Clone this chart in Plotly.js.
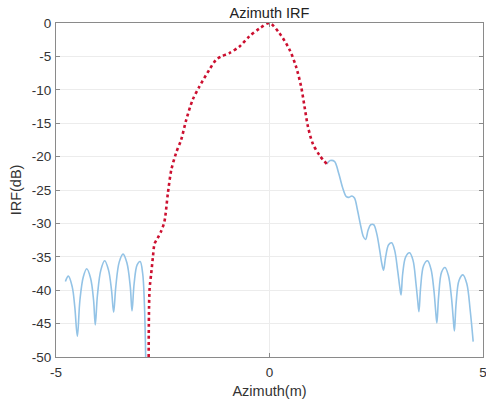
<!DOCTYPE html>
<html>
<head>
<meta charset="utf-8">
<script src="https://cdn.plot.ly/plotly-3.0.1.min.js"></script>
<style>html,body{margin:0;padding:0;background:#fff;}#chart{width:486px;height:403px;}</style>
</head>
<body>
<div id="chart"></div>
<script>
// Blue full IRF (sidelobes), left part
const blueLeftX = [-4.78, -4.71, -4.62, -4.56, -4.50, -4.44, -4.36, -4.28, -4.19, -4.12, -4.08, -4.03, -3.95, -3.86, -3.77, -3.70, -3.65, -3.60, -3.52, -3.43, -3.34, -3.26, -3.22, -3.17, -3.10, -3.03, -2.97, -2.93, -2.90];
const blueLeftY = [-38.7, -37.9, -39.5, -42.5, -46.9, -41.5, -38.0, -36.8, -38.2, -41.5, -45.2, -40.8, -37.0, -35.6, -37.0, -40.0, -43.3, -39.5, -35.8, -34.6, -35.9, -39.5, -43.1, -39.0, -36.2, -35.7, -37.5, -42.0, -50.0];
// Blue full IRF, right part
const blueRightX = [1.34, 1.42, 1.52, 1.62, 1.72, 1.80, 1.86, 1.93, 1.99, 2.06, 2.14, 2.20, 2.25, 2.31, 2.37, 2.44, 2.51, 2.58, 2.63, 2.67, 2.72, 2.79, 2.86, 2.93, 3.00, 3.05, 3.08, 3.12, 3.19, 3.28, 3.36, 3.43, 3.47, 3.50, 3.54, 3.61, 3.70, 3.78, 3.85, 3.89, 3.92, 3.96, 4.03, 4.11, 4.19, 4.26, 4.30, 4.33, 4.37, 4.44, 4.53, 4.62, 4.70, 4.77];
const blueRightY = [-21.1, -20.6, -20.7, -22.5, -24.8, -26.0, -26.1, -25.9, -26.2, -28.0, -30.5, -32.0, -32.4, -31.0, -30.2, -30.2, -31.5, -34.0, -36.0, -37.0, -35.0, -33.2, -32.9, -34.0, -37.0, -39.5, -40.7, -37.5, -35.0, -34.4, -35.5, -39.0, -41.5, -43.2, -39.5, -36.3, -35.6, -36.8, -40.0, -43.0, -44.9, -41.0, -37.3, -36.6, -37.8, -41.0, -44.0, -46.1, -42.0, -38.5, -37.7, -39.0, -43.0, -47.7];
// Red dotted main lobe
const redX = [-2.83, -2.81, -2.77, -2.73, -2.69, -2.62, -2.54, -2.46, -2.38, -2.30, -2.19, -2.07, -1.95, -1.80, -1.64, -1.41, -1.25, -1.13, -0.94, -0.70, -0.47, -0.23, 0.00, 0.23, 0.47, 0.62, 0.74, 0.82, 0.90, 1.01, 1.17, 1.34];
const redY = [-50.0, -40.0, -37.5, -35.0, -33.0, -32.2, -31.2, -29.7, -25.5, -22.0, -19.5, -17.5, -14.5, -11.5, -9.5, -7.0, -5.5, -5.0, -4.5, -3.5, -2.0, -0.8, 0.0, -1.5, -4.0, -6.5, -9.5, -12.5, -15.5, -18.0, -19.8, -21.1];
const xTicks = [-5, 0, 5];
const yTicks = [0, -5, -10, -15, -20, -25, -30, -35, -40, -45, -50];

const blueX = blueLeftX.concat([null], blueRightX);
const blueY = blueLeftY.concat([null], blueRightY);

const FONT = 'Arial, Liberation Sans, sans-serif';

const traces = [
  {x: blueX, y: blueY, type: 'scatter', mode: 'lines', connectgaps: false, cliponaxis: true,
   line: {color: '#93c3e6', width: 1.6, shape: 'spline', smoothing: 1}, hoverinfo: 'skip'},
  {x: redX, y: redY, type: 'scatter', mode: 'lines',
   line: {color: '#cc1030', width: 2.6, dash: 'dot', shape: 'spline', smoothing: 0.8}, hoverinfo: 'skip'}
];

const axisCommon = {
  showline: true, mirror: 'ticks', linecolor: '#8a8a8a', linewidth: 1,
  ticks: 'inside', ticklen: 4, tickcolor: '#8a8a8a',
  showgrid: true, gridcolor: '#ececec', gridwidth: 1, zeroline: false,
  tickfont: {family: FONT, size: 13.5, color: '#333333'}
};

const layout = {
  width: 486, height: 403,
  margin: {l: 56, r: 3, t: 23, b: 46},
  paper_bgcolor: '#ffffff', plot_bgcolor: '#ffffff',
  showlegend: false,
  title: {text: 'Azimuth IRF', x: 0.5, xref: 'paper', xanchor: 'center', y: 0.968, yref: 'container', yanchor: 'middle',
          font: {family: FONT, size: 14.5, color: '#222222'}},
  xaxis: Object.assign({}, axisCommon, {
    range: [-5, 5], tickvals: xTicks, ticktext: xTicks.map(String), ticklabelstandoff: 3,
    ticklabeloverflow: 'allow',
    title: {text: 'Azimuth(m)', standoff: 6, font: {family: FONT, size: 14.5, color: '#333333'}}
  }),
  yaxis: Object.assign({}, axisCommon, {
    range: [-50, 0], tickvals: yTicks, ticktext: yTicks.map(String), ticklabelstandoff: 1,
    ticklabeloverflow: 'allow',
    title: {text: 'IRF(dB)', standoff: 6, font: {family: FONT, size: 14.5, color: '#333333'}}
  })
};

Plotly.newPlot('chart', traces, layout, {displayModeBar: false, staticPlot: true});
</script>
</body>
</html>
